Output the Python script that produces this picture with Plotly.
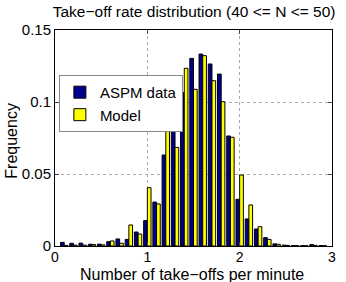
import plotly.graph_objects as go

rates = [0.1, 0.2, 0.3, 0.4, 0.5, 0.6, 0.7, 0.8, 0.9, 1.0,
         1.1, 1.2, 1.3, 1.4, 1.5, 1.6, 1.7, 1.8, 1.9, 2.0,
         2.1, 2.2, 2.3, 2.4, 2.5, 2.6, 2.7, 2.8, 2.9]
aspm = [0.0025, 0.0019, 0.0020, 0.0012, 0.0013, 0.0030, 0.0049, 0.0046, 0.0097, 0.0176,
        0.0305, 0.0632, 0.0984, 0.1065, 0.1303, 0.1333, 0.1264, 0.1194, 0.0764, 0.0324,
        0.0188, 0.0118, 0.0058, 0.0015, 0.0006, 0.0003, 0.0003, 0.0010, 0.0003]
model = [0.0004, 0.0006, 0.0006, 0.0010, 0.0008, 0.0035, 0.0019, 0.0146, 0.0083, 0.0405,
         0.0292, 0.0829, 0.0685, 0.1234, 0.1088, 0.1322, 0.1148, 0.1002, 0.0755, 0.0493,
         0.0285, 0.0134, 0.0046, 0.0012, 0.0004, 0.0002, 0.0002, 0.0004, 0.0002]
x_ticks = [0, 1, 2, 3]
y_ticks = [0, 0.05, 0.1, 0.15]
y_tick_labels = ["0", "0.05", "0.1", "0.15"]
title_text = "Take\u2212off rate distribution (40 <= N <= 50)"
x_label = "Number of take\u2212offs per minute"
y_label = "Frequency"

FONT = "Liberation Sans, Arial, Helvetica, sans-serif"

fig = go.Figure()
fig.add_trace(go.Bar(x=rates, y=aspm, name="ASPM data",
                     marker=dict(color="#00008F", line=dict(color="black", width=1))))
fig.add_trace(go.Bar(x=rates, y=model, name="Model",
                     marker=dict(color="#FFFF00", line=dict(color="black", width=1))))

fig.update_layout(
    width=346, height=282,
    margin=dict(l=55, r=10, t=30, b=36),
    paper_bgcolor="white", plot_bgcolor="white",
    barmode="group", bargap=0.2, bargroupgap=0,
    font=dict(family=FONT, size=14, color="black"),
    title=dict(text=title_text, x=0.561, xanchor="center",
               y=1 - 12 / 282, yanchor="middle", font=dict(size=15.5)),
    legend=dict(x=0.014, y=0.792, xanchor="left", yanchor="top",
                bgcolor="white", bordercolor="#888", borderwidth=1,
                font=dict(size=15), tracegroupgap=0, itemwidth=30),
    showlegend=True,
    annotations=[
        dict(text=x_label, xref="paper", yref="paper", x=0.495, y=-0.13,
             xanchor="center", yanchor="middle", showarrow=False,
             font=dict(size=16)),
        dict(text=y_label, xref="paper", yref="paper", x=-0.16, y=0.486,
             xanchor="center", yanchor="middle", showarrow=False,
             textangle=-90, font=dict(size=16)),
    ],
)
fig.update_xaxes(range=[0, 3], tickvals=x_ticks, ticks="inside", ticklen=4,
                 showline=True, linecolor="black", linewidth=1, mirror="ticks",
                 showgrid=True, gridcolor="#aaa", griddash="dot", gridwidth=1,
                 zeroline=False, tickfont=dict(size=14), ticklabelstandoff=-2)
fig.update_yaxes(range=[0, 0.15], tickvals=y_ticks, ticktext=y_tick_labels,
                 ticks="inside", ticklen=4,
                 showline=True, linecolor="black", linewidth=1, mirror="ticks",
                 showgrid=True, gridcolor="#aaa", griddash="dot", gridwidth=1,
                 zeroline=False, tickfont=dict(size=15))

fig.write_html("out.html", config={"displayModeBar": False},
               post_script="document.body.style.margin='0';document.body.style.overflow='hidden';")
